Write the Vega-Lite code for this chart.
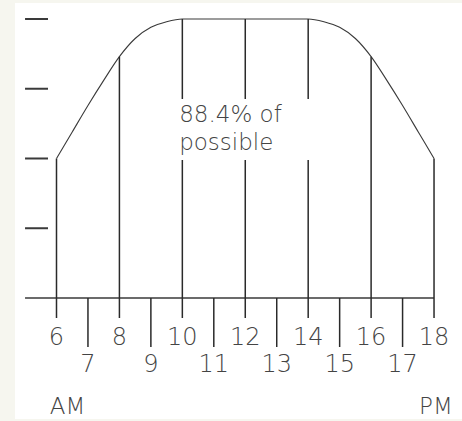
{
  "$schema": "https://vega.github.io/schema/vega-lite/v6.json",
  "width": 447,
  "height": 416,
  "autosize": {"type": "none"},
  "padding": {"left": 15, "top": 3, "right": 0, "bottom": 2},
  "background": "#f6f6ef",
  "config": {
    "view": {"stroke": null, "fill": "white"},
    "text": {"font": "DejaVu Sans", "fontWeight": 200, "color": "#444444"}
  },
  "datasets": {
    "curve": [
      {"hour": 6, "level": 0.5},
      {"hour": 6.5, "level": 0.595},
      {"hour": 7, "level": 0.69},
      {"hour": 7.5, "level": 0.78},
      {"hour": 8, "level": 0.865},
      {"hour": 8.5, "level": 0.93},
      {"hour": 9, "level": 0.97},
      {"hour": 9.5, "level": 0.99},
      {"hour": 10, "level": 1},
      {"hour": 11, "level": 1},
      {"hour": 12, "level": 1},
      {"hour": 13, "level": 1},
      {"hour": 14, "level": 1},
      {"hour": 14.5, "level": 0.99},
      {"hour": 15, "level": 0.97},
      {"hour": 15.5, "level": 0.93},
      {"hour": 16, "level": 0.865},
      {"hour": 16.5, "level": 0.78},
      {"hour": 17, "level": 0.69},
      {"hour": 17.5, "level": 0.595},
      {"hour": 18, "level": 0.5}
    ],
    "gridLevels": [
      {"level": 0.25},
      {"level": 0.5},
      {"level": 0.75},
      {"level": 1}
    ],
    "note": [
      {"hour": 9.9, "level": 0.631, "label": ["88.4% of", "possible"]}
    ],
    "period": [
      {"hour": 6.35, "label": "AM"},
      {"hour": 18.06, "label": "PM"}
    ]
  },
  "layer": [
    {
      "data": {"name": "gridLevels"},
      "mark": {"type": "rule", "stroke": "#3a3a3a", "strokeWidth": 2},
      "encoding": {
        "x": {"datum": 5.0, "type": "quantitative", "scale": {"domain": [4.681, 18.889], "nice": false, "zero": false}, "axis": null},
        "x2": {"datum": 5.73},
        "y": {"field": "level", "type": "quantitative", "scale": {"domain": [-0.4337, 1.0573], "nice": false, "zero": false}, "axis": null}
      }
    },
    {
      "data": {"name": "curve"},
      "transform": [{"filter": "datum.hour == 6"}],
      "mark": {"type": "rule", "stroke": "#3a3a3a", "strokeWidth": 1.3},
      "encoding": {
        "x": {"datum": 5.0, "type": "quantitative"},
        "x2": {"datum": 18},
        "y": {"datum": 0, "type": "quantitative"}
      }
    },
    {
      "data": {"name": "curve"},
      "mark": {"type": "line", "stroke": "#3a3a3a", "strokeWidth": 1.1, "interpolate": "monotone"},
      "encoding": {
        "x": {"field": "hour", "type": "quantitative"},
        "y": {"field": "level", "type": "quantitative"}
      }
    },
    {
      "data": {"name": "curve"},
      "transform": [{"filter": "datum.hour % 2 == 0"}],
      "mark": {"type": "rule", "stroke": "#2a2a2a", "strokeWidth": 1.5},
      "encoding": {
        "x": {"field": "hour", "type": "quantitative"},
        "y": {"field": "level", "type": "quantitative"},
        "y2": {"datum": -0.0717}
      }
    },
    {
      "data": {"name": "curve"},
      "transform": [{"filter": "datum.hour % 2 == 1"}],
      "mark": {"type": "rule", "stroke": "#2a2a2a", "strokeWidth": 1.5},
      "encoding": {
        "x": {"field": "hour", "type": "quantitative"},
        "y": {"datum": 0, "type": "quantitative"},
        "y2": {"datum": -0.1756}
      }
    },
    {
      "data": {"name": "note"},
      "mark": {"type": "rect", "fill": "white"},
      "encoding": {
        "x": {"datum": 9.67, "type": "quantitative"},
        "x2": {"datum": 14.25},
        "y": {"datum": 0.713, "type": "quantitative"},
        "y2": {"datum": 0.4946}
      }
    },
    {
      "data": {"name": "note"},
      "mark": {"type": "text", "align": "left", "baseline": "alphabetic", "fontSize": 23, "lineHeight": 28},
      "encoding": {
        "x": {"field": "hour", "type": "quantitative"},
        "y": {"field": "level", "type": "quantitative"},
        "text": {"field": "label"}
      }
    },
    {
      "data": {"name": "curve"},
      "transform": [{"filter": "datum.hour % 2 == 0"}],
      "mark": {"type": "text", "align": "center", "baseline": "alphabetic", "fontSize": 24},
      "encoding": {
        "x": {"field": "hour", "type": "quantitative"},
        "y": {"datum": -0.1685, "type": "quantitative"},
        "text": {"field": "hour", "type": "quantitative", "format": "d"}
      }
    },
    {
      "data": {"name": "curve"},
      "transform": [{"filter": "datum.hour % 2 == 1"}],
      "mark": {"type": "text", "align": "center", "baseline": "alphabetic", "fontSize": 24},
      "encoding": {
        "x": {"field": "hour", "type": "quantitative"},
        "y": {"datum": -0.2652, "type": "quantitative"},
        "text": {"field": "hour", "type": "quantitative", "format": "d"}
      }
    },
    {
      "data": {"name": "period"},
      "mark": {"type": "text", "align": "center", "baseline": "alphabetic", "fontSize": 23},
      "encoding": {
        "x": {"field": "hour", "type": "quantitative"},
        "y": {"datum": -0.414, "type": "quantitative"},
        "text": {"field": "label"}
      }
    }
  ]
}
